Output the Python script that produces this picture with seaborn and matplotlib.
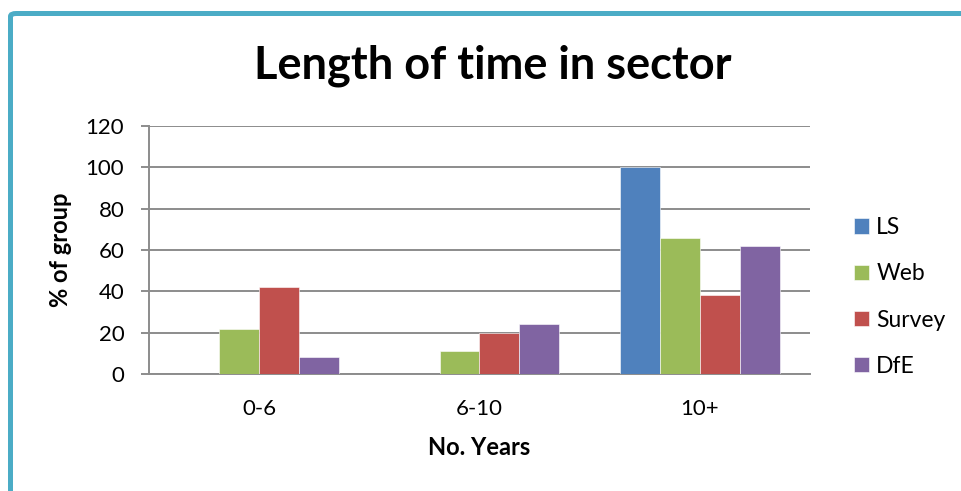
import matplotlib
matplotlib.use("Agg")
import matplotlib.pyplot as plt
from matplotlib.patches import FancyBboxPatch
import seaborn as sns
import pandas as pd

categories = ["0-6", "6-10", "10+"]
series = ["LS", "Web", "Survey", "DfE"]
ls_values = [0, 0, 100]
web_values = [22, 11, 66]
survey_values = [42, 20, 38]
dfe_values = [8, 24, 62]
y_ticks = [0, 20, 40, 60, 80, 100, 120]

colors = ["#4F81BD", "#9BBB59", "#C0504D", "#8064A2"]

rows = []
for name, vals in zip(series, [ls_values, web_values, survey_values, dfe_values]):
    for cat, v in zip(categories, vals):
        rows.append({"years": cat, "group": name, "pct": v})
df = pd.DataFrame(rows)

sns.set_theme(style="white")
plt.rcParams["font.family"] = ["Lato", "DejaVu Sans"]
plt.rcParams["text.color"] = "black"
plt.rcParams["axes.labelcolor"] = "black"

W, H = 961, 491
fig = plt.figure(figsize=(W / 100, H / 100), dpi=100)
fig.patch.set_facecolor("white")

# outer chart frame (only top and left edges fall inside the canvas)
frame = FancyBboxPatch((10.5 / W, -60 / H), (1100) / W, (H - 13.5 + 60) / H,
                       boxstyle="round,pad=0,rounding_size=0.006",
                       transform=fig.transFigure, fill=False,
                       edgecolor="#4BACC6", linewidth=3.6, zorder=0)
fig.patches.append(frame)

ax = fig.add_axes([149 / W, 1 - 374 / H, (810 - 149) / W, (374 - 126) / H])
sns.barplot(data=df, x="years", y="pct", hue="group", order=categories,
            hue_order=series, palette=colors, width=0.726, gap=0,
            saturation=1, ax=ax, legend=True, edgecolor="white",
            linewidth=0.4, zorder=3)

ax.set_ylim(0, 120)
ax.set_yticks(y_ticks)
ax.set_xlim(-0.5, 2.5)
ax.yaxis.grid(True, color="#8C8C8C", linewidth=1.4, zorder=0)
ax.set_axisbelow(True)
for s in ["top", "right"]:
    ax.spines[s].set_visible(False)
for s in ["left", "bottom"]:
    ax.spines[s].set_color("#8C8C8C")
    ax.spines[s].set_linewidth(1.4)
ax.tick_params(axis="y", direction="out", length=5.8, width=1.4,
               color="#8C8C8C", pad=12, labelsize=16, labelcolor="black", left=True)
ax.tick_params(axis="x", length=0, pad=18, labelsize=16, labelcolor="black")

ax.set_xlabel("No. Years", fontsize=17, fontweight="bold", labelpad=12)
ax.set_ylabel("% of group", fontsize=17, fontweight="bold", labelpad=10)

leg = ax.legend(loc="center left", bbox_to_anchor=(845 / W, 1 - 297 / H),
                bbox_transform=fig.transFigure, frameon=False, fontsize=16.5,
                handlelength=0.66, handleheight=0.66, handletextpad=0.3,
                labelspacing=1.1, borderaxespad=0)

fig.text(493 / W, 1 - 66 / H, "Length of time in sector", ha="center",
         va="center", fontsize=32.5, fontweight="bold", color="black")

fig.savefig("out.png", dpi=100)
